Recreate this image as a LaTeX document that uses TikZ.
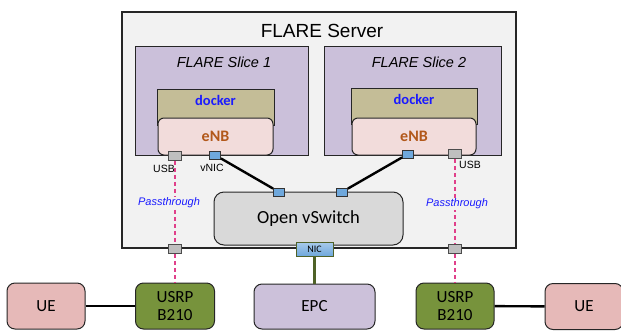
\documentclass[tikz,border=0pt]{standalone}
\usepackage{fontspec}
\setmainfont{Carlito}
\newfontfamily\helv{Liberation Sans}
\definecolor{srvgray}{HTML}{F2F2F2}
\definecolor{slicepurple}{HTML}{CBC0DA}
\definecolor{dockertan}{HTML}{C4BD97}
\definecolor{enbpink}{HTML}{F2DCDB}
\definecolor{enbbrown}{HTML}{B2581A}
\definecolor{ovsgray}{HTML}{D9D9D9}
\definecolor{epcpurple}{HTML}{CCC1DA}
\definecolor{usrpgreen}{HTML}{77933C}
\definecolor{uepink}{HTML}{E6B9B8}
\definecolor{portgray}{HTML}{BFBFBF}
\definecolor{portblue}{HTML}{6FA8DC}
\definecolor{nicgreen}{HTML}{4F6228}
\definecolor{passpink}{HTML}{E0408A}
\definecolor{textblue}{HTML}{1A1AFF}
\begin{document}
\begin{tikzpicture}[x=1pt,y=-1pt,
    box/.style={draw=black!85,line width=1pt,inner sep=0pt,align=center},
    server/.style={box,fill=srvgray,line width=1.8pt},
    slice/.style={box,fill=slicepurple},
    dockerbox/.style={box,fill=dockertan,text=textblue,font=\bfseries\fontsize{14.5}{16}\selectfont},
    enb/.style={box,fill=enbpink,rounded corners=6pt,text=enbbrown,font=\bfseries\fontsize{16}{18}\selectfont},
    ovs/.style={box,fill=ovsgray,rounded corners=10pt,font=\fontsize{18.5}{20}\selectfont},
    bottombox/.style={box,rounded corners=8pt,minimum height=46,font=\fontsize{17}{18}\selectfont},
    usbport/.style={draw=black!70,fill=portgray,line width=0.8pt,minimum width=13,minimum height=9,inner sep=0pt},
    vnicport/.style={draw=black!80,fill=portblue,line width=0.8pt,minimum width=11,minimum height=8,inner sep=0pt},
    link/.style={line width=2.4pt},
    passline/.style={draw=passpink,line width=2.5pt,dash pattern=on 4pt off 3pt},
    passlabel/.style={fill=srvgray,inner sep=1pt,text=textblue,font=\helv\itshape\fontsize{11}{13}\selectfont},
    portlabel/.style={inner sep=0pt,font=\helv\fontsize{10.5}{12}\selectfont}]
  \clip (0,0) rectangle (621,330);
  % server and slices
  \node[server,minimum width=394,minimum height=236] (server) at (319,130) {};
  \node[font=\helv\fontsize{19}{21}\selectfont] (servertitle) at (322,31) {FLARE Server};
  \node[slice,minimum width=173,minimum height=109] (sliceA) at (221.5,100.5) {};
  \node[slice,minimum width=177,minimum height=109] (sliceB) at (412.5,100.5) {};
  \node[font=\helv\itshape\fontsize{14.5}{16}\selectfont] (titleA) at (224,62) {FLARE Slice 1};
  \node[font=\helv\itshape\fontsize{14.5}{16}\selectfont] (titleB) at (419,62) {FLARE Slice 2};
  % docker and eNB
  \node[dockerbox,anchor=north,minimum width=117,text height=16pt,text depth=20pt] (dockerA) at (215.5,89) {docker};
  \node[dockerbox,anchor=north,minimum width=126,text height=16pt,text depth=20pt] (dockerB) at (414,88) {docker};
  \node[enb,minimum width=115,minimum height=37] (enbA) at (215.5,136.5) {eNB};
  \node[enb,minimum width=124,minimum height=37] (enbB) at (414,136.5) {eNB};
  % open vswitch
  \node[ovs,minimum width=189,minimum height=53] (ovs) at (308.5,218.5) {Open vSwitch};
  % outside boxes
  \node[bottombox,fill=uepink,minimum width=78] (ueA) at (46,306) {UE};
  \node[bottombox,fill=usrpgreen,minimum width=79] (usrpA) at (175,306) {USRP\\B210};
  \node[bottombox,fill=epcpurple,minimum width=121,minimum height=45] (epc) at (314.5,306.5) {EPC};
  \node[bottombox,fill=usrpgreen,minimum width=78] (usrpB) at (455,306) {USRP\\B210};
  \node[bottombox,fill=uepink,minimum width=78] (ueB) at (584,306.5) {UE};
  % ports
  \node[usbport] (usbA) at (175,156) {};
  \node[vnicport] (vnicA) at (215,155) {};
  \node[vnicport] (vnicB) at (408,154) {};
  \node[usbport] (usbB) at (455,154) {};
  \node[vnicport] (ovsA) at (279,192) {};
  \node[vnicport] (ovsB) at (342,192) {};
  \node[usbport] (srvA) at (175,249) {};
  \node[usbport] (srvB) at (455,249) {};
  \node[draw=nicgreen,line width=1pt,top color=portblue!60,bottom color=portblue,minimum width=37,minimum height=14,inner sep=0pt,font=\fontsize{10}{11}\selectfont] (nic) at (314.5,249) {NIC};
  % connectors
  \begin{scope}
    \draw[link] (vnicA) -- (ovsA);
    \draw[link] (vnicB) -- (ovsB);
    \draw[link,draw=nicgreen] (nic) -- (epc);
    \draw[link] (ueA) -- (usrpA);
    \draw[link] (usrpB) -- (ueB);
    \draw[passline] (usbA) -- (srvA);
    \draw[passline] (srvA) -- (usrpA);
    \draw[passline] (usbB) -- (srvB);
    \draw[passline] (srvB) -- (usrpB);
  \end{scope}
  % labels
  \node[passlabel] (passA) at (169,203) {Passthrough};
  \node[passlabel] (passB) at (457,204) {Passthrough};
  \node[portlabel] (usblabelA) at (164,169) {USB};
  \node[portlabel] (vniclabel) at (212,168) {vNIC};
  \node[portlabel] (usblabelB) at (470,165) {USB};
\end{tikzpicture}
\end{document}
